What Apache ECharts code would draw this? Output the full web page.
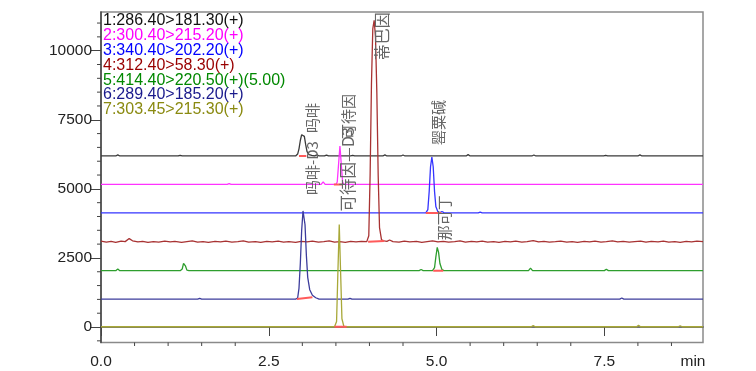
<!DOCTYPE html>
<html><head><meta charset="utf-8">
<script src="https://cdn.jsdelivr.net/npm/echarts@6/dist/echarts.min.js"></script>
<style>html,body{margin:0;padding:0;background:#fff}#c{width:756px;height:371px}</style>
</head><body><div id="c"></div>
<script>
// ---- data ----
const channelNames = ['1:286.40>181.30(+)','2:300.40>215.20(+)','3:340.40>202.20(+)','4:312.40>58.30(+)','5:414.40>220.50(+)(5.00)','6:289.40>185.20(+)','7:303.45>215.30(+)'];
const xTicks = [0, 2.5, 5, 7.5];
const xMinorTicks = [0.5,1,1.5,2,3,3.5,4,4.5,5.5,6,6.5,7,8,8.5];
const yTicks = [0, 2500, 5000, 7500, 10000];
const yMinorTicks = [-500,500,1000,1500,2000,3000,3500,4000,4500,5500,6000,6500,7000,8000,8500,9000,9500,10500,11000];

const trace1 = [[0,6190],[0.22,6190],[0.25,6230],[0.28,6190],[1.15,6190],[1.18,6215],[1.21,6190],[2.90,6190],[2.93,6260],[2.95,6450],[2.97,6750],[2.99,6960],[3.01,7020],[3.03,6900],[3.05,6600],[3.07,6350],[3.10,6240],[3.14,6210],[3.18,6190],[3.22,6230],[3.25,6190],[3.33,6190],[3.36,6220],[3.39,6190],[3.72,6190],[3.75,6215],[3.78,6190],[4.20,6190],[4.23,6230],[4.26,6190],[4.47,6190],[4.50,6225],[4.53,6190],[5.44,6190],[5.47,6240],[5.50,6190],[6.42,6190],[6.45,6225],[6.48,6190],[7.49,6190],[7.52,6215],[7.55,6190],[8.00,6190],[8.03,6230],[8.06,6190],[8.97,6190]];
const trace2 = [[0,5160],[1.88,5160],[1.91,5190],[1.94,5160],[3.28,5160],[3.31,5250],[3.34,5160],[3.50,5160],[3.52,5250],[3.54,5900],[3.56,6550],[3.58,5900],[3.60,5250],[3.62,5160],[8.97,5160]];
const trace3 = [[0,4130],[4.84,4130],[4.87,4250],[4.89,4900],[4.91,5800],[4.93,6150],[4.95,5800],[4.97,4900],[4.99,4350],[5.02,4170],[5.05,4140],[5.08,4180],[5.11,4140],[5.15,4130],[5.62,4130],[5.65,4160],[5.68,4130],[8.97,4130]];
const trace4 = [[0,3110],[0.08,3070],[0.15,3100],[0.22,3060],[0.30,3110],[0.36,3090],[0.42,3200],[0.47,3120],[0.55,3080],[0.62,3100],[0.70,3060],[0.78,3090],[0.86,3070],[0.95,3110],[1.03,3080],[1.10,3100],[1.20,3060],[1.28,3090],[1.36,3120],[1.44,3070],[1.52,3090],[1.60,3060],[1.70,3100],[1.78,3080],[1.86,3110],[1.95,3070],[2.04,3090],[2.12,3120],[2.20,3070],[2.30,3090],[2.38,3060],[2.47,3100],[2.55,3080],[2.64,3110],[2.72,3070],[2.80,3090],[2.90,3060],[2.98,3100],[3.07,3080],[3.15,3110],[3.24,3070],[3.32,3090],[3.40,3120],[3.48,3070],[3.56,3090],[3.64,3060],[3.72,3100],[3.80,3080],[3.88,3100],[3.96,3090],[3.99,3300],[4.01,5500],[4.03,8800],[4.05,10800],[4.07,11100],[4.09,10500],[4.11,8500],[4.13,5500],[4.15,3600],[4.18,3150],[4.22,3120],[4.26,3100],[4.30,3150],[4.35,3090],[4.44,3070],[4.52,3110],[4.60,3080],[4.70,3100],[4.78,3060],[4.86,3090],[4.94,3120],[5.02,3080],[5.10,3100],[5.18,3070],[5.27,3090],[5.35,3120],[5.43,3070],[5.52,3100],[5.60,3080],[5.68,3110],[5.76,3070],[5.85,3090],[5.93,3060],[6.02,3100],[6.10,3080],[6.18,3110],[6.27,3070],[6.35,3090],[6.44,3130],[6.52,3080],[6.60,3100],[6.68,3070],[6.77,3090],[6.85,3110],[6.94,3070],[7.02,3090],[7.10,3060],[7.20,3100],[7.28,3080],[7.36,3110],[7.45,3070],[7.53,3090],[7.62,3120],[7.70,3080],[7.78,3100],[7.87,3070],[7.95,3090],[8.04,3110],[8.12,3070],[8.20,3100],[8.30,3080],[8.38,3110],[8.46,3070],[8.55,3090],[8.63,3060],[8.72,3100],[8.80,3080],[8.88,3110],[8.97,3090]];
const trace5 = [[0,2040],[0.22,2040],[0.25,2100],[0.28,2040],[1.18,2040],[1.21,2100],[1.23,2300],[1.245,2330],[1.26,2200],[1.28,2060],[1.31,2040],[4.74,2040],[4.77,2080],[4.80,2040],[4.94,2040],[4.97,2150],[4.99,2550],[5.01,2885],[5.03,2700],[5.05,2300],[5.08,2080],[5.11,2040],[6.37,2040],[6.40,2130],[6.43,2040],[7.50,2040],[7.53,2090],[7.56,2040],[8.97,2040]];
const trace6 = [[0,1010],[1.44,1010],[1.47,1040],[1.50,1010],[2.90,1010],[2.93,1050],[2.95,1400],[2.97,2300],[2.99,3500],[3.01,4200],[3.02,4270],[3.04,3700],[3.06,2600],[3.08,1800],[3.11,1350],[3.15,1150],[3.20,1060],[3.25,1010],[3.68,1010],[3.71,1040],[3.74,1010],[7.73,1010],[7.76,1050],[7.79,1010],[8.97,1010]];
const trace7 = [[0,10],[3.48,10],[3.51,200],[3.53,2000],[3.55,3710],[3.57,2000],[3.59,300],[3.62,10],[6.41,10],[6.44,50],[6.47,10],[7.98,10],[8.01,60],[8.04,10],[8.60,10],[8.63,45],[8.66,10],[8.97,10]];
const traces = [trace1, trace2, trace3, trace4, trace5, trace6, trace7];

// integration baselines drawn under the peaks
const integrationMarks = [
  [[2.95,6190],[3.06,6190]],
  [[3.47,5160],[3.59,5160]],
  [[4.84,4130],[5.07,4130]],
  [[3.98,3090],[4.22,3110]],
  [[4.95,2040],[5.10,2040]],
  [[2.92,1010],[3.15,1080]],
  [[3.48,10],[3.66,10]]
];

// peak annotations: trace index and compound name
const peakLabels = [
  {trace:0, text:'吗啡'},
  {trace:5, text:'吗啡-D3'},
  {trace:1, text:'可待因'},
  {trace:6, text:'可待因—D3'},
  {trace:3, text:'蒂巴因'},
  {trace:2, text:'罂粟碱'},
  {trace:4, text:'那可丁'}
];

// ---- styles ----
const lineColors = ['#3a3a3a','#ff33ff','#3535ff','#a83232','#2e9e2e','#3c3c9c','#a8a838'];
const legendColors = ['#111111','#ff00ff','#0000ff','#990000','#008800','#1a1a8c','#8a8a10'];
const labelOffsets = [[9,0],[9,-14],[8,-7],[8,-13],[8,40],[6,-12],[7,-7]];
const labelFonts = [15,15,15,16.5,16,15,15];

const chart = echarts.init(document.getElementById('c'), null, {renderer:'canvas'});
const FONT = 'Liberation Sans, Arial, sans-serif';
const xMin = 0, xMax = 8.97, yMin = -560, yMax = 11400;

const series = [];
traces.forEach((d, i) => {
  series.push({type:'line', data:d, showSymbol:false, symbol:'none', animation:false,
    lineStyle:{color:lineColors[i], width:1.3}, z:2});
});
integrationMarks.forEach(m => {
  series.push({type:'line', data:m, showSymbol:false, symbol:'none', animation:false,
    lineStyle:{color:'#ff5a5a', width:2}, z:3});
});

chart.setOption({
  animation:false,
  grid:{left:101, right:53, top:12, bottom:28.5, show:true, borderColor:'#8a8a8a', borderWidth:1.5},
  xAxis:{type:'value', min:xMin, max:xMax, splitLine:{show:false},
     axisLine:{show:true, lineStyle:{color:'#444', width:1.5}},
     axisTick:{show:true, customValues:xTicks, length:9, lineStyle:{color:'#444'}},
     axisLabel:{customValues:xTicks, formatter:v=>v.toFixed(1), fontSize:15.5, fontFamily:FONT, color:'#222', margin:11}},
  yAxis:{type:'value', min:yMin, max:yMax, splitLine:{show:false},
     axisLine:{show:true, lineStyle:{color:'#444', width:1.5}},
     axisTick:{show:true, customValues:yTicks, length:10, lineStyle:{color:'#444'}},
     axisLabel:{customValues:yTicks, formatter:v=>String(v), fontSize:15.5, fontFamily:FONT, color:'#222', margin:9}},
  series:series
});

// graphics: minor ticks, channel legend, peak labels, axis unit
const graphics = [];
const origin = chart.convertToPixel({gridIndex:0}, [xMin, yMin]);
yMinorTicks.forEach(v => {
  const py = chart.convertToPixel({yAxisIndex:0}, v);
  graphics.push({type:'line', shape:{x1:origin[0]-4, y1:py, x2:origin[0], y2:py}, style:{stroke:'#444', lineWidth:1}, z:5});
});
xMinorTicks.forEach(v => {
  const px = chart.convertToPixel({xAxisIndex:0}, v);
  graphics.push({type:'line', shape:{x1:px, y1:origin[1], x2:px, y2:origin[1]+3.5}, style:{stroke:'#444', lineWidth:1}, z:5});
});
channelNames.forEach((n, i) => {
  graphics.push({type:'text', x:103, y:20.5 + 14.9*i, z:10,
    style:{text:n, fill:legendColors[i], font:'16px ' + FONT, verticalAlign:'middle', align:'left'}});
});
peakLabels.forEach((p, i) => {
  const d = traces[p.trace];
  let apex = d[0];
  d.forEach(pt => { if (pt[1] > apex[1]) apex = pt; });
  const px = chart.convertToPixel({gridIndex:0}, apex);
  graphics.push({type:'text', x:px[0] + labelOffsets[i][0], y:px[1] + labelOffsets[i][1], rotation:Math.PI/2, z:9,
    style:{text:p.text, fill:'#666', font:labelFonts[i] + 'px "Noto Sans CJK SC", sans-serif', align:'left', verticalAlign:'middle'}});
});
graphics.push({type:'text', x:693, y:362, z:10,
  style:{text:'min', fill:'#222', font:'15.5px ' + FONT, align:'center', verticalAlign:'middle'}});
chart.setOption({graphic:graphics});
</script>
</body></html>
